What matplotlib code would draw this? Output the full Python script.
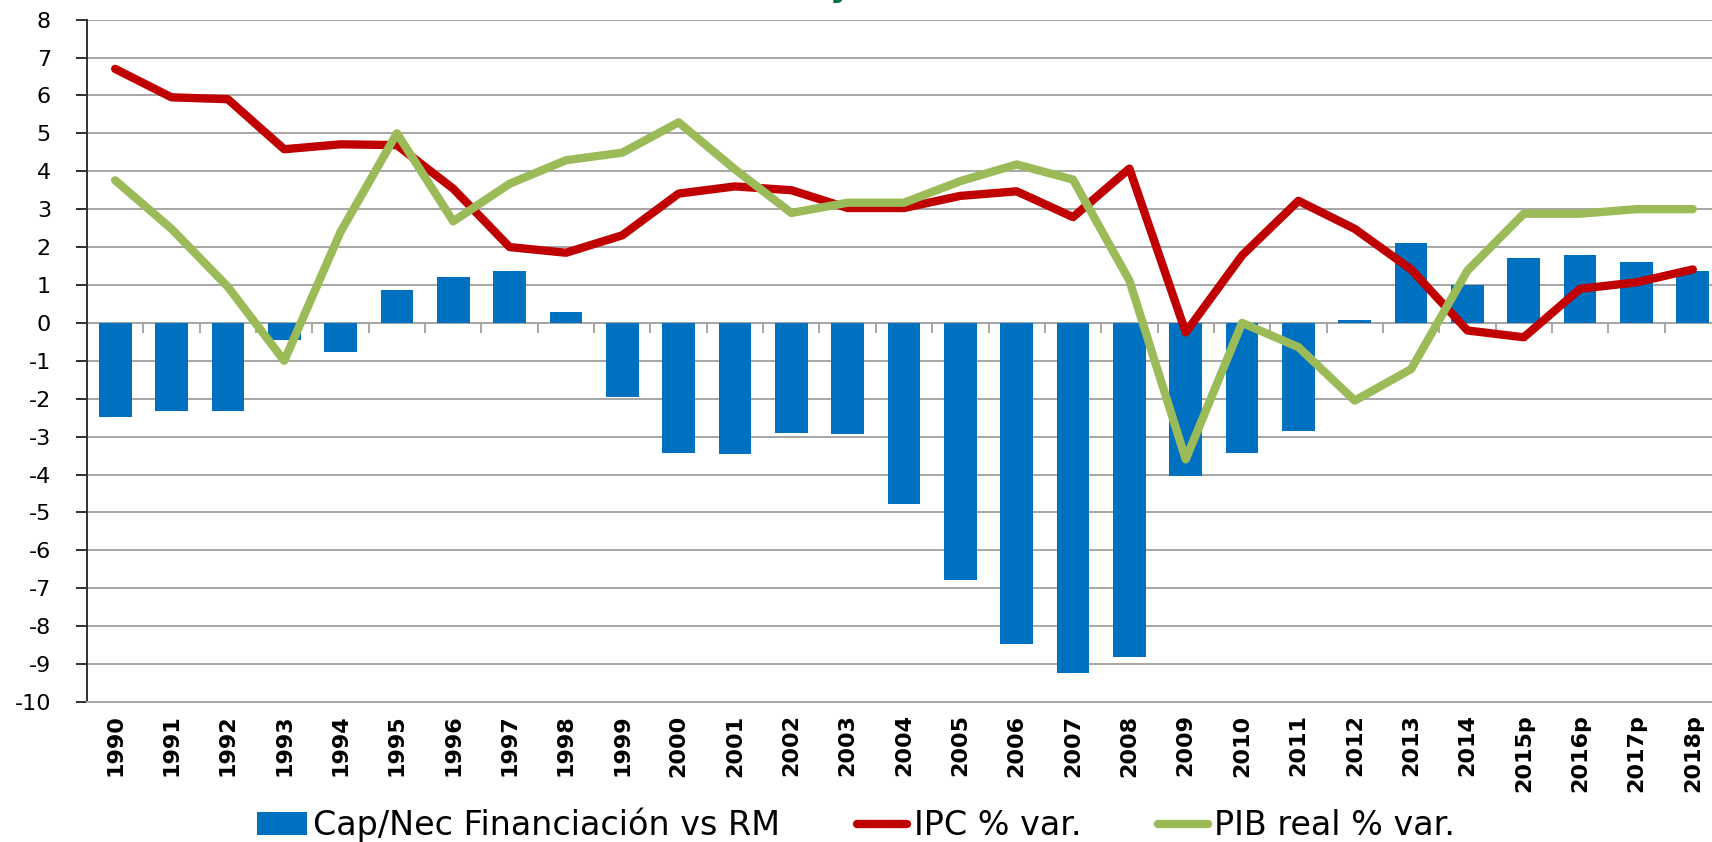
import matplotlib
matplotlib.use('Agg')
import matplotlib.pyplot as plt
import numpy as np

plt.rcParams['axes.unicode_minus'] = False

years = ['1990', '1991', '1992', '1993', '1994', '1995', '1996', '1997', '1998', '1999',
         '2000', '2001', '2002', '2003', '2004', '2005', '2006', '2007', '2008', '2009',
         '2010', '2011', '2012', '2013', '2014', '2015p', '2016p', '2017p', '2018p']
cap_nec = [-2.49, -2.32, -2.32, -0.44, -0.76, 0.87, 1.21, 1.38, 0.30, -1.96,
           -3.44, -3.47, -2.90, -2.93, -4.77, -6.79, -8.48, -9.24, -8.81, -4.05,
           -3.44, -2.86, 0.08, 2.10, 1.01, 1.70, 1.78, 1.60, 1.38]
ipc = [6.70, 5.95, 5.90, 4.58, 4.71, 4.69, 3.54, 2.00, 1.85, 2.31,
       3.41, 3.60, 3.50, 3.03, 3.03, 3.35, 3.47, 2.79, 4.07, -0.25,
       1.78, 3.22, 2.48, 1.41, -0.20, -0.38, 0.90, 1.07, 1.41]
pib = [3.76, 2.48, 0.95, -1.00, 2.40, 5.00, 2.68, 3.67, 4.29, 4.49,
       5.29, 4.05, 2.90, 3.17, 3.17, 3.74, 4.18, 3.78, 1.12, -3.60,
       0.00, -0.64, -2.05, -1.22, 1.38, 2.88, 2.88, 3.00, 3.00]
series_names = ['Cap/Nec Financiación vs RM', 'IPC % var.', 'PIB real % var.']
y_ticks = list(range(-10, 9))

W, H = 1712, 842
fig = plt.figure(figsize=(W / 100, H / 100), dpi=100)
ax = fig.add_axes([87 / W, 1 - 702 / H, (1721 - 87) / W, (702 - 19.6) / H])

x = np.arange(len(years))
bars = ax.bar(x, cap_nec, width=0.58, color='#0070C0', zorder=2, label=series_names[0])
l1, = ax.plot(x, ipc, color='#C00000', lw=6, zorder=3, label=series_names[1],
              solid_joinstyle='round', solid_capstyle='round')
l2, = ax.plot(x, pib, color='#9BBB59', lw=6, zorder=4, label=series_names[2],
              solid_joinstyle='round', solid_capstyle='round')

ax.set_xlim(-0.5, len(years) - 0.5)
ax.set_ylim(-10, 8)
ax.set_yticks(y_ticks)
ax.yaxis.grid(True, color='#A6A6A6', lw=1.4, zorder=0)
ax.set_axisbelow(True)
for s in ['top', 'right']:
    ax.spines[s].set_visible(False)
ax.spines['bottom'].set_color('#A6A6A6')
ax.spines['bottom'].set_linewidth(1.4)
ax.spines['left'].set_color('#303030')
ax.spines['left'].set_linewidth(1.4)

ax.set_xticks(x)
ax.set_xticklabels(years, rotation=90, fontweight='bold', fontsize=16)
ax.tick_params(axis='x', length=0, pad=9)
ax.tick_params(axis='y', length=8, width=1.4, color='#303030', labelsize=16, pad=18)

# category separator ticks along the zero line
sec = ax.secondary_xaxis(10 / 18)
sec.set_xticks(np.arange(0.5, len(years) - 0.5, 1.0))
sec.xaxis.set_ticks_position('bottom')
sec.tick_params(axis='x', direction='out', length=7, width=1.4, color='#A6A6A6',
                labelbottom=False, labeltop=False)
for s in sec.spines.values():
    s.set_color('#A6A6A6')
    s.set_linewidth(1.4)

# clipped title fragment at the top
fig.text(840 / W, 1 + 4 / H, 'y', color='#00704A', fontsize=24, fontweight='bold',
         ha='center', va='baseline')

fig.legend([bars, l1, l2], series_names, loc='center', bbox_to_anchor=(0.5, 0.02),
           ncol=3, frameon=False, fontsize=24, handlelength=1.5, handletextpad=0.2,
           columnspacing=2.3)

fig.savefig('out.png', dpi=100)
